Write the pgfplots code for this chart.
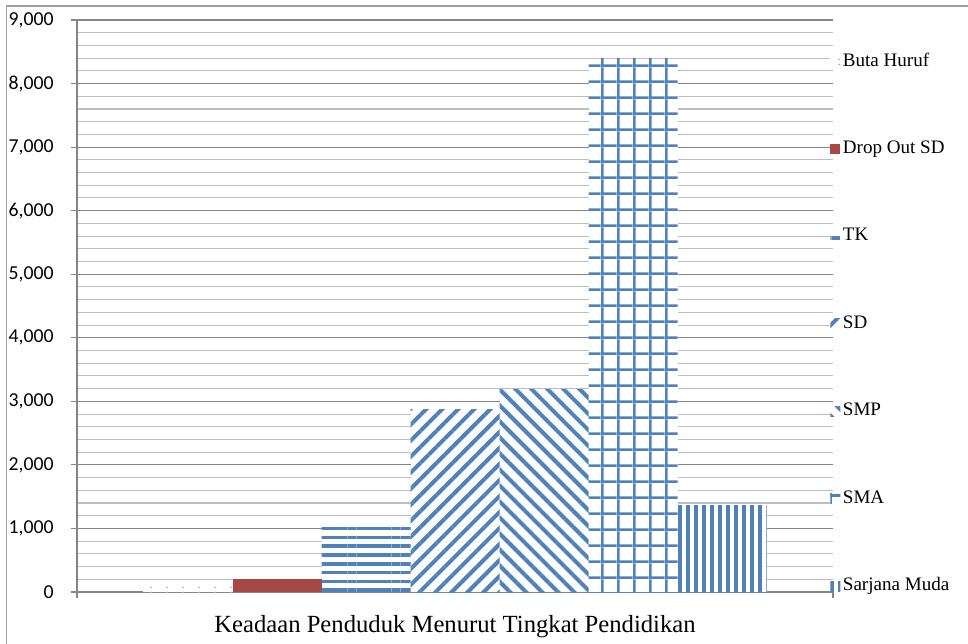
\documentclass[border=0pt]{standalone}
\usepackage{fontspec}
\setmainfont{Liberation Serif}
\newfontfamily\calibri{Carlito}
\usepackage{pgfplots}
\pgfplotsset{compat=1.18}
\usetikzlibrary{patterns.meta}
\definecolor{xblue}{RGB}{79,129,189}
\definecolor{xred}{RGB}{168,72,70}
\definecolor{majgrid}{RGB}{134,134,134}
\definecolor{mingrid}{RGB}{190,190,190}
\definecolor{frame}{RGB}{160,160,160}
\tikzdeclarepattern{
  name=sparsedots,
  type=uncolored,
  bottom left={(0pt,0pt)},
  top right={(12pt,4pt)},
  tile size={(12pt,4pt)},
  code={\fill (5pt,1.5pt) rectangle (6.5pt,2.5pt);}
}
\tikzdeclarepattern{
  name=biggrid,
  type=uncolored,
  bottom left={(0pt,0pt)},
  top right={(12.2pt,12.2pt)},
  tile size={(12.2pt,12.2pt)},
  code={\fill (0pt,0pt) rectangle (12.2pt,2pt); \fill (0pt,0pt) rectangle (2pt,12.2pt);}
}
\begin{document}
\begin{tikzpicture}
\path[use as bounding box] (-57.75pt,-38.25pt) rectangle (668.25pt,444pt);
\draw[frame, line width=1.1pt] (-52.8pt,-60pt) -- (-52.8pt,439.5pt) -- (700pt,439.5pt);
\begin{axis}[
  at={(0pt,0pt)}, anchor=south west,
  width=567pt, height=429pt, scale only axis,
  ybar=0pt, bar width=66.75pt,
  xmin=-0.5, xmax=0.5,
  ymin=0, ymax=9000,
  ytick={0,1000,...,9000},
  minor y tick num=4,
  ymajorgrids, yminorgrids,
  major grid style={majgrid, line width=0.9pt},
  minor grid style={mingrid, line width=0.8pt},
  xtick={-0.5,0.5}, xticklabels={},
  extra x ticks={0},
  extra x tick labels={Keadaan Penduduk Menurut Tingkat Pendidikan},
  extra x tick style={major tick length=0pt, xticklabel style={font=\fontsize{18.5}{20}\selectfont, yshift=-14pt}},
  tick align=outside,
  major tick length=4.5pt, minor tick length=0pt,
  tick style={majgrid, line width=0.9pt},
  axis x line*=bottom, axis y line*=left,
  axis line style={majgrid, line width=0.9pt, -},
  yticklabel style={font=\calibri\fontsize{14.8}{17}\selectfont, xshift=-9.5pt},
  /pgf/number format/.cd, 1000 sep={,}, assume math mode=true, /pgfplots/.cd,
  legend image code/.code={\fill[#1] (0pt,-3.75pt) rectangle (7.5pt,3.75pt);},
  legend style={at={(rel axis cs:0.996,0.948)}, anchor=north west, draw=none, fill=none,
    inner sep=0pt, row sep=48.6pt, font=\fontsize{14.3}{16}\selectfont,
    cells={anchor=west}, nodes={inner sep=2pt, text height=10pt, text depth=3pt}},
]
\addplot[draw=none, fill=white, postaction={pattern=sparsedots, pattern color=xblue!60}] coordinates {(0,100)};
\addplot[draw=none, fill=xred] coordinates {(0,210)};
\addplot[draw=none, fill=white, postaction={pattern={Lines[angle=0,distance=6.6pt,line width=2.8pt]}, pattern color=xblue}] coordinates {(0,1010)};
\addplot[draw=none, fill=white, postaction={pattern={Lines[angle=45,distance=8.5pt,line width=3pt]}, pattern color=xblue}] coordinates {(0,2870)};
\addplot[draw=none, fill=white, postaction={pattern={Lines[angle=-45,distance=8.5pt,line width=3pt]}, pattern color=xblue}] coordinates {(0,3180)};
\addplot[draw=none, fill=white, postaction={pattern=biggrid, pattern color=xblue}] coordinates {(0,8390)};
\addplot[draw=none, fill=white, postaction={pattern={Lines[angle=90,distance=6pt,line width=2.6pt]}, pattern color=xblue}] coordinates {(0,1360)};
\legend{Buta Huruf, Drop Out SD, TK, SD, SMP, SMA, Sarjana Muda}
\end{axis}
\end{tikzpicture}
\end{document}
